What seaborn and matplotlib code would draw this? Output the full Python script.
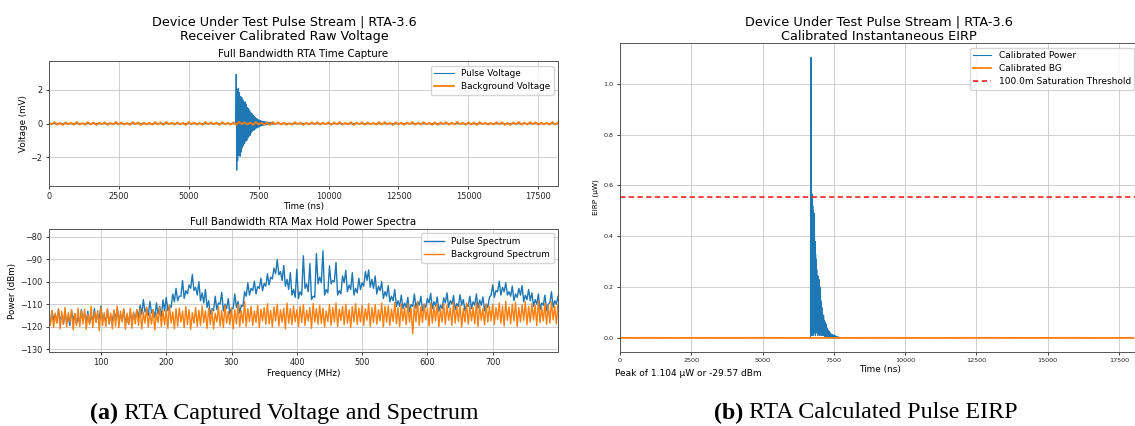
import numpy as np
import matplotlib
matplotlib.use("Agg")
import matplotlib.pyplot as plt
import seaborn as sns

# ---- data ----
# (a) top: receiver calibrated raw voltage, mV
burst_t0, burst_dt = 6680, 20          # ns, sample spacing of the pulse burst
pulse_voltage = [
    0.05, 2.93, -2.78, 2.05, -2.2, 2.1, -1.9, 1.85, -1.95, 1.6,
    -1.7, 1.55, -1.45, 1.4, -1.3, 1.25, -1.2, 1.3, -1.05, 1.15,
    -1.0, 0.95, -0.85, 0.9, -0.75, 0.8, -0.7, 0.65, -0.55, 0.6,
    -0.45, 0.5, -0.4, 0.42, -0.38, 0.35, -0.3, 0.3, -0.26, 0.27,
    -0.22, 0.22, -0.2, 0.18, -0.16, 0.17, -0.14, 0.14, -0.12, 0.12,
    -0.1, 0.11, -0.09, 0.1, -0.08, 0.09, -0.07, 0.08, -0.06, 0.07,
    -0.05, 0.06, -0.05, 0.05, -0.04, 0.05, -0.04, 0.04, -0.03, 0.02,
]
bg_dt = 100                            # ns
background_voltage = [
    .06, -.05, .08, -.07, .04, -.09, .07, -.04, .05, -.08,
    .09, -.06, .03, -.07, .08, -.05, .06, -.09, .05, -.04,
    .07, -.08, .04, -.06, .09, -.05, .06, -.07, .03, -.08,
    .08, -.04, .07, -.09, .05, -.06, .04, -.07, .08, -.05,
    .06, -.08, .09, -.04, .05, -.07, .07, -.06, .04, -.09,
    .08, -.05, .06, -.07, .03, -.08, .09, -.04, .07, -.06,
    .05, -.09, .08, -.05, .04, -.07, .06, -.08, .09, -.04,
    .07, -.06, .05, -.08, .08, -.05, .04, -.07, .06, -.09,
    .09, -.04, .07, -.06, .05, -.08, .03, -.07, .08, -.05,
    .06, -.09, .04, -.06, .07, -.05, .08, -.07, .05, -.04,
    .07, -.08, .06, -.05, .09, -.07, .04, -.06, .08, -.09,
    .05, -.04, .07, -.08, .06, -.05, .03, -.07, .09, -.06,
    .08, -.05, .04, -.09, .07, -.06, .05, -.08, .06, -.04,
    .09, -.07, .05, -.06, .08, -.05, .04, -.08, .07, -.09,
    .06, -.04, .08, -.07, .05, -.06, .09, -.05, .04, -.08,
    .07, -.06, .06, -.09, .08, -.04, .05, -.07, .03, -.06,
    .08, -.05, .07, -.08, .04, -.09, .06, -.05, .09, -.07,
    .05, -.06, .08, -.04, .07, -.08, .06, -.05, .04, -.07,
    .09, -.06, .05,
]

# (a) bottom: max hold power spectra, dBm, 20..800 MHz.
# "_hi" lists sit on 20, 25, ... MHz (local peaks), "_lo" on 22.5, 27.5, ... (troughs)
f0, df = 20, 2.5
pulse_spectrum_hi = [
    -115.5, -113.0, -114.5, -112.5, -115.0, -113.5, -116.0, -112.8, -114.2, -115.8,
    -112.5, -114.0, -113.2, -115.5, -112.0, -114.5, -110.8, -114.8, -112.6, -115.2,
    -113.0, -111.8, -114.6, -112.4, -115.0, -113.0, -114.2, -112.5,
    -110.5, -108.0, -111.8, -108.8, -112.5, -109.5, -111.0, -108.2,
    -107.0, -110.5, -105.5, -103.0, -106.5, -99.5, -104.0, -101.5,
    -96.8, -102.5, -100.0, -105.0,
    -103.5, -108.5, -112.0, -106.5, -109.5, -104.8, -110.0, -107.5, -111.8, -105.5,
    -108.8, -110.5,
    -104.5, -100.5, -103.0, -99.8, -102.2,
    -98.5, -100.8, -96.5, -98.0, -94.0,
    -90.2,
    -95.5, -92.8, -99.0, -96.0, -103.5,
    -94.5, -104.5, -88.5, -101.0, -92.0, -106.5, -87.5, -98.0, -86.3, -103.5, -93.0,
    -99.5, -91.5, -104.0, -97.5, -95.0, -101.5, -96.0, -103.0, -98.5, -100.5,
    -95.5, -94.8, -99.0,
    -97.5, -102.0, -100.0, -104.5, -101.8, -106.5, -103.5, -108.5,
    -106.0, -109.5, -107.0, -110.2, -105.5, -108.8, -106.5, -110.0, -107.5, -105.2,
    -109.0, -106.8, -110.5, -107.2, -105.0, -108.5, -106.2, -109.8, -105.8, -108.0,
    -110.2, -106.5, -109.0, -105.5, -108.2, -106.8, -110.0, -107.0,
    -101.5, -104.0, -99.8, -102.5, -100.5,
    -104.5, -102.0, -105.5, -103.0, -101.8, -106.0, -103.5, -105.0,
    -108.0, -105.5, -109.5, -106.0, -110.0, -104.5, -108.5, -106.5,
]
pulse_spectrum_lo = [
    -118.5, -117.0, -118.2, -117.5, -119.0, -118.0, -119.5, -117.2, -118.8, -118.5,
    -117.0, -118.0, -118.6, -117.5, -117.8, -116.5, -117.5, -118.2, -118.8, -117.5,
    -116.8, -118.0, -117.5, -118.5, -119.0, -118.0, -117.0,
    -116.0, -114.5, -113.5, -115.0, -114.0, -116.0, -114.5, -115.5, -113.0,
    -113.0, -111.5, -109.0, -108.5, -106.5, -107.5, -105.5, -103.0,
    -104.0, -106.0, -108.5, -109.5,
    -111.5, -114.5, -113.0, -112.5, -110.0, -113.0, -112.0, -114.5, -112.0, -111.5,
    -114.0, -111.0,
    -106.5, -106.0, -104.0, -105.5, -103.0,
    -104.0, -102.0, -101.5, -98.8, -96.5,
    -97.0,
    -99.5, -102.0, -103.5, -106.0, -107.0,
    -107.5, -106.0, -103.0, -104.5, -108.0, -107.0, -101.0, -100.5, -106.0, -105.0,
    -101.0,
    -100.0, -106.0, -105.5, -100.5, -104.5, -103.5, -106.0, -105.0, -103.5, -102.0,
    -99.5, -102.5, -103.0,
    -105.5, -104.0, -107.5, -106.5, -109.0, -108.5, -111.0, -111.0,
    -112.0, -111.5, -113.5, -111.0, -111.8, -110.5, -113.0, -111.5, -109.5, -112.0,
    -110.8, -113.2, -112.0, -109.5, -111.5, -110.0, -112.5, -111.0, -110.5, -113.0,
    -111.0, -112.0, -110.5, -111.8, -110.5, -113.0, -111.5, -106.0,
    -107.0, -104.5, -106.0, -104.5, -106.0,
    -106.5, -108.5, -107.0, -106.0, -109.0, -108.0, -108.5, -111.0,
    -110.0, -112.5, -110.5, -113.0, -109.5, -111.5, -110.0,
]
background_spectrum_hi = [
    -113.5, -112.8, -114.0, -112.0, -113.2, -111.5, -113.8, -112.5, -114.2, -111.8,
    -113.0, -112.2, -114.5, -111.0, -113.5, -112.8, -111.5, -113.8, -112.0, -114.0,
    -112.5, -110.8, -113.2, -112.0, -114.0, -111.8, -113.5, -112.5,
    -112.0, -113.5, -111.2, -113.8, -112.5, -114.0, -111.5, -113.0, -112.2, -110.5,
    -113.5, -112.0, -111.8, -113.2, -111.0, -112.5, -113.8, -111.5, -112.8, -110.8,
    -113.0, -111.8, -112.5, -114.0, -111.2, -112.8, -110.5, -113.2, -111.8, -112.5,
    -110.2, -113.0,
    -108.8, -112.0, -111.0, -113.0, -110.5, -112.2, -111.5, -109.8, -112.8, -111.2,
    -110.0, -112.5, -111.8, -109.5, -112.0, -110.8, -112.5, -111.0, -110.2, -112.8,
    -111.5, -109.8, -112.0, -110.5, -111.8, -113.0, -110.2, -111.5, -109.5, -112.2,
    -111.0, -110.0, -112.5, -111.2, -109.8, -111.8,
    -110.5, -112.0, -109.8, -111.5, -110.2, -112.5, -109.5, -111.0, -110.8, -112.2,
    -109.2, -111.5, -110.0, -111.8, -109.8, -112.0, -110.5, -109.0, -111.2, -110.0,
    -112.0, -109.5, -111.0, -110.2, -112.2, -109.8, -110.5, -111.8, -109.0, -111.0,
    -110.5, -112.0, -109.5, -110.8, -111.5, -109.2, -110.5, -112.0, -110.0, -111.0,
    -110.0, -111.5, -109.5, -110.8, -108.8, -111.2, -110.0, -109.2, -111.5, -110.2,
    -109.0, -111.0, -109.8, -110.5, -108.5, -111.2, -109.8, -110.5, -109.0, -111.0,
    -110.2,
]
background_spectrum_lo = [
    -119.5, -120.5, -118.5, -121.0, -119.0, -120.2, -118.0, -121.5, -119.5, -120.0,
    -118.8, -121.2, -119.0, -120.5, -118.2, -121.8, -119.5, -120.0, -118.5, -121.0,
    -119.8, -120.5, -118.0, -121.2, -119.0, -120.8, -118.8,
    -119.5, -121.0, -118.5, -120.2, -119.0, -121.5, -118.2, -120.0, -119.2, -120.8,
    -118.5, -121.0, -119.8, -118.0, -120.5, -119.0, -121.2, -118.5, -120.0, -119.5,
    -118.2, -120.8, -119.0, -121.0, -118.0, -119.8, -120.5, -118.5, -119.2, -121.0,
    -118.8, -120.0,
    -118.5, -120.0, -117.8, -119.5, -118.2, -120.5, -117.5, -119.0, -118.8, -120.2,
    -117.5, -119.8, -118.0, -121.0, -118.5, -119.2, -117.8, -120.0, -118.2, -119.5,
    -117.5, -120.8, -118.0, -119.0, -118.5, -120.2, -117.8, -119.5, -118.0, -120.0,
    -117.2, -119.2, -118.5, -120.5, -117.8, -119.0,
    -118.0, -119.5, -117.2, -120.0, -118.2, -119.0, -117.5, -120.2, -118.0, -119.5,
    -117.8, -118.8, -120.0, -117.5, -119.2, -118.0, -123.2, -117.8, -119.5, -118.2,
    -117.0, -119.8, -118.5, -117.5, -120.0, -118.0, -119.0, -117.2, -119.5, -118.5,
    -117.8, -120.2, -118.0, -119.0, -117.5, -118.8, -120.0, -117.2, -119.2, -118.0,
    -117.5, -119.0, -117.0, -118.5, -119.8, -117.2, -118.8, -117.5, -120.0, -118.0,
    -117.2, -119.2, -118.0, -117.0, -119.5, -118.2, -117.5, -119.0, -118.5, -117.0,
    -118.8,
]

# (b): calibrated instantaneous EIRP, uW
eirp_t0, eirp_dt = 6680, 10
calibrated_power = [
    0.0, 0.35, 1.104, 0.02, 0.40, 0.01, 0.566, 0.03, 0.52, 0.01,
    0.50, 0.04, 0.47, 0.02, 0.49, 0.05, 0.38, 0.01, 0.33, 0.03,
    0.31, 0.02, 0.27, 0.04, 0.24, 0.01, 0.245, 0.03, 0.22, 0.02,
    0.23, 0.01, 0.19, 0.03, 0.20, 0.02, 0.15, 0.01, 0.14, 0.02,
    0.12, 0.01, 0.10, 0.02, 0.085, 0.01, 0.09, 0.015, 0.07, 0.01,
    0.065, 0.005, 0.06, 0.01, 0.055, 0.005, 0.05, 0.01, 0.04, 0.005,
    0.035, 0.004, 0.03, 0.006, 0.028, 0.003, 0.026, 0.004, 0.022, 0.003,
    0.018, 0.002, 0.016, 0.003, 0.014, 0.002, 0.013, 0.002, 0.012, 0.001,
    0.011, 0.002, 0.010, 0.001, 0.012, 0.001, 0.009, 0.001, 0.007, 0.001,
    0.006, 0.001, 0.005, 0.001, 0.004, 0.0005, 0.004, 0.0005, 0.003, 0.0005,
    0.003, 0.0005, 0.002,
]
bg_eirp_dt = 1000
calibrated_bg = [0.0004, 0.0007, 0.0003, 0.0006, 0.0005, 0.0008, 0.0003, 0.0006,
                 0.0004, 0.0007, 0.0005, 0.0003, 0.0006, 0.0008, 0.0004, 0.0005,
                 0.0007, 0.0003, 0.0006]
saturation_threshold = 0.553
peak_note = "Peak of 1.104 \u00b5W or -29.57 dBm"

t_end = 18200

# ---- build sample axes ----
pulse_t = np.concatenate([[0, burst_t0 - burst_dt],
                          burst_t0 + burst_dt * np.arange(len(pulse_voltage)),
                          [burst_t0 + burst_dt * len(pulse_voltage), t_end]])
pulse_v = np.concatenate([[0.0, 0.0], pulse_voltage, [0.0, 0.0]])
bg_t = bg_dt * np.arange(len(background_voltage))


def interleave(a, b):
    out = np.empty(len(a) + len(b))
    out[0::2] = a
    out[1::2] = b
    return out


pulse_spectrum = interleave(pulse_spectrum_hi, pulse_spectrum_lo)
background_spectrum = interleave(background_spectrum_hi, background_spectrum_lo)
freq = f0 + df * np.arange(len(pulse_spectrum))
eirp_t = eirp_t0 + eirp_dt * np.arange(len(calibrated_power))
bg_eirp_t = bg_eirp_dt * np.arange(len(calibrated_bg))

blue, orange = "#1f77b4", "#ff7f0e"
W, H = 1135, 426

fig = plt.figure(figsize=(W / 100, H / 100), dpi=100)


def px_axes(left, top, right, bottom):
    return fig.add_axes([left / W, 1 - bottom / H, (right - left) / W, (bottom - top) / H])


def style(ax, tick_size):
    ax.grid(True, color="#c8c8c8", lw=0.6)
    ax.set_axisbelow(True)
    for s in ax.spines.values():
        s.set_color("#555555")
        s.set_linewidth(0.7)
    ax.tick_params(labelsize=tick_size, length=2.5, width=0.6, pad=2, colors="#222222")


leg_kw = dict(loc="upper right", fontsize=6.4, framealpha=0.8, edgecolor="#cccccc",
              handlelength=2.2, borderpad=0.4, labelspacing=0.45)

# ---- (a) top: voltage ----
ax1 = px_axes(48.7, 61.3, 558, 185.7)
sns.lineplot(x=pulse_t, y=pulse_v, ax=ax1, color=blue, lw=0.8, label="Pulse Voltage")
sns.lineplot(x=bg_t, y=background_voltage, ax=ax1, color=orange, lw=1.3,
             label="Background Voltage")
ax1.set_xlim(0, t_end)
ax1.set_ylim(-3.7, 3.7)
ax1.set_xticks(np.arange(0, 17501, 2500))
ax1.set_yticks([-2, 0, 2])
style(ax1, 5.9)
ax1.set_xlabel("Time (ns)", fontsize=6.3, labelpad=1)
ax1.set_ylabel("Voltage (mV)", fontsize=6.3, labelpad=2)
ax1.set_title("Full Bandwidth RTA Time Capture", fontsize=7.4, pad=3)
ax1.legend(**leg_kw)

# ---- (a) bottom: spectra ----
ax2 = px_axes(48.7, 229, 558, 352)
sns.lineplot(x=freq, y=pulse_spectrum, ax=ax2, color=blue, lw=1.0, label="Pulse Spectrum")
sns.lineplot(x=freq, y=background_spectrum, ax=ax2, color=orange, lw=1.0,
             label="Background Spectrum")
ax2.set_xlim(20, 800)
ax2.set_ylim(-131.3, -76.6)
ax2.set_xticks(np.arange(100, 701, 100))
ax2.set_yticks(np.arange(-130, -79, 10))
style(ax2, 5.9)
ax2.set_xlabel("Frequency (MHz)", fontsize=6.3, labelpad=1)
ax2.set_ylabel("Power (dBm)", fontsize=6.3, labelpad=2)
ax2.set_title("Full Bandwidth RTA Max Hold Power Spectra", fontsize=7.4, pad=3)
ax2.legend(**leg_kw)

# ---- (b) EIRP ----
ax3 = px_axes(620, 43, 1139, 352)
sns.lineplot(x=eirp_t, y=calibrated_power, ax=ax3, color=blue, lw=0.8,
             label="Calibrated Power")
sns.lineplot(x=bg_eirp_t, y=calibrated_bg, ax=ax3, color=orange, lw=1.3,
             label="Calibrated BG")
ax3.axhline(saturation_threshold, color="#ff1010", ls=(0, (3.5, 2.2)), lw=1.1,
            label="100.0m Saturation Threshold")
ax3.set_xlim(0, t_end)
ax3.set_ylim(-0.055, 1.16)
ax3.set_xticks(np.arange(0, 17501, 2500))
ax3.set_yticks(np.arange(0, 1.01, 0.2))
style(ax3, 4.6)
ax3.set_xlabel("Time (ns)", fontsize=6.4, labelpad=1)
ax3.set_ylabel("EIRP (\u00b5W)", fontsize=5.2, labelpad=3)
ax3.legend(**dict(leg_kw, fontsize=6.5, handlelength=2.0))

# ---- titles and notes ----
fig.text(284 / W, 1 - 29 / H,
         "Device Under Test Pulse Stream | RTA-3.6\nReceiver Calibrated Raw Voltage",
         ha="center", va="center", fontsize=9.2, linespacing=1.15)
fig.text(879 / W, 1 - 29 / H,
         "Device Under Test Pulse Stream | RTA-3.6\nCalibrated Instantaneous EIRP",
         ha="center", va="center", fontsize=9.3, linespacing=1.15)
fig.text(615 / W, 1 - 374 / H, peak_note, ha="left", va="center", fontsize=6.5)

# ---- sub-figure captions: bold tag + regular text ----
renderer = fig.canvas.get_renderer()


def caption(xc, yc, tag, rest):
    kw = dict(family="Liberation Serif", fontsize=17.3, va="center", ha="left")
    t1 = fig.text(0, 1 - yc / H, tag, fontweight="bold", **kw)
    t2 = fig.text(0, 1 - yc / H, " " + rest, **kw)
    w1 = t1.get_window_extent(renderer).width
    w2 = t2.get_window_extent(renderer).width
    x0 = xc - (w1 + w2) / 2
    t1.set_x(x0 / W)
    t2.set_x((x0 + w1) / W)


caption(284, 413, "(a)", "RTA Captured Voltage and Spectrum")
caption(866, 413, "(b)", "RTA Calculated Pulse EIRP")

fig.savefig("out.png", dpi=100)
